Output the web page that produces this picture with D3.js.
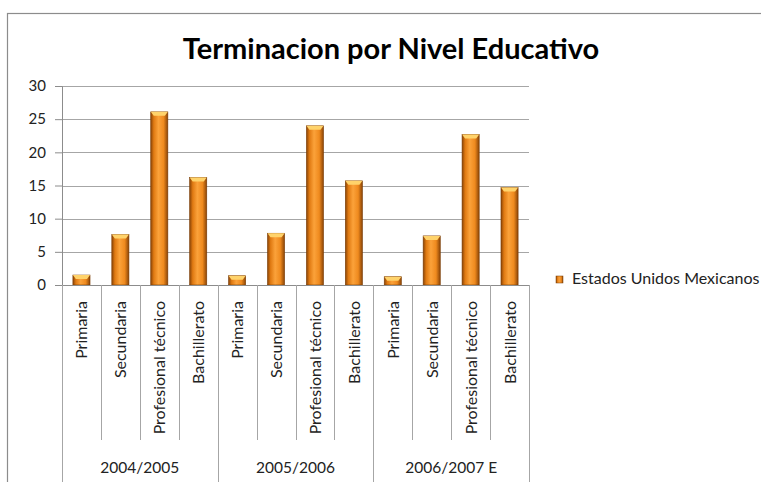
<!DOCTYPE html>
<html>
<head>
<meta charset="utf-8">
<script src="https://cdn.jsdelivr.net/npm/d3@7"></script>
<style>
  body { margin: 0; background: #fff; }
  text { font-family: Lato, "Open Sans", sans-serif; fill: #222; }
</style>
</head>
<body>
<div class="vis-barchart"></div>
<script>
// chart data
const periods = ["2004/2005", "2005/2006", "2006/2007 E"];
const levels = ["Primaria", "Secundaria", "Profesional técnico", "Bachillerato"];
const values_2004 = [1.5, 7.6, 26.1, 16.2];
const values_2005 = [1.4, 7.8, 24.0, 15.7];
const values_2006 = [1.25, 7.4, 22.7, 14.7];
const yTicks = [0, 5, 10, 15, 20, 25, 30];
const seriesName = "Estados Unidos Mexicanos";
const title = "Terminacion por Nivel Educativo";

const chartWidth = 761;
const chartHeight = 482;
const margin = { top: 86, left: 62, right: 232, bottom: 197 };
const plotW = chartWidth - margin.left - margin.right;
const plotH = chartHeight - margin.top - margin.bottom;

var allValues = [values_2004, values_2005, values_2006];
var chart_data = [];
periods.forEach(function(p, i) {
  levels.forEach(function(l, j) {
    chart_data.push({ period: p, level: l, key: p + "|" + l, value: allValues[i][j] });
  });
});

var svg = d3.select(".vis-barchart").append("svg")
  .attr("width", chartWidth)
  .attr("height", chartHeight);

var defs = svg.append("defs");
var grad = defs.append("linearGradient").attr("id", "barGrad")
  .attr("x1", "0%").attr("x2", "100%").attr("y1", "0%").attr("y2", "0%");
grad.append("stop").attr("offset", "0%").attr("stop-color", "#8a4406");
grad.append("stop").attr("offset", "18%").attr("stop-color", "#e07a12");
grad.append("stop").attr("offset", "45%").attr("stop-color", "#fba23a");
grad.append("stop").attr("offset", "75%").attr("stop-color", "#ef8a1e");
grad.append("stop").attr("offset", "100%").attr("stop-color", "#8a4406");

// outer frame
svg.append("rect")
  .attr("x", 7.5).attr("y", 13.5)
  .attr("width", 800).attr("height", 500)
  .attr("fill", "none").attr("stroke", "#8c8c8c").attr("stroke-width", 1.2);

svg.append("text")
  .attr("x", 391).attr("y", 59)
  .attr("text-anchor", "middle")
  .style("font-size", "29px").style("font-weight", "bold")
  .style("fill", "#000")
  .text(title);

var g = svg.append("g")
  .attr("transform", "translate(" + margin.left + "," + margin.top + ")");

var x = d3.scaleBand()
  .domain(chart_data.map(function(d) { return d.key; }))
  .range([0, plotW])
  .paddingInner(0.56)
  .paddingOuter(0.28);

var xp = d3.scaleBand().domain(periods).range([0, plotW]);

var y = d3.scaleLinear().domain([0, 30]).range([plotH, 0]);

// gridlines
g.selectAll(".grid").data(yTicks.slice(1)).enter().append("line")
  .attr("x1", 0).attr("x2", plotW)
  .attr("y1", function(d) { return Math.round(y(d)) + 0.5; })
  .attr("y2", function(d) { return Math.round(y(d)) + 0.5; })
  .attr("stroke", "#a6a6a6").attr("stroke-width", 1);

// y axis
var yAxis = g.append("g")
  .call(d3.axisLeft(y).tickValues(yTicks).tickSize(7).tickPadding(9));
yAxis.select(".domain").attr("stroke", "#8c8c8c");
yAxis.selectAll(".tick line").attr("stroke", "#8c8c8c");
yAxis.selectAll(".tick text")
  .style("font-size", "15px").style("fill", "#222")
  .style("font-family", "Lato, sans-serif");

// bars
var bw = x.bandwidth();
var bars = g.selectAll(".bar").data(chart_data).enter().append("g");
bars.append("rect")
  .attr("x", function(d) { return x(d.key); })
  .attr("width", bw)
  .attr("y", function(d) { return y(d.value); })
  .attr("height", function(d) { return plotH - y(d.value); })
  .attr("fill", "url(#barGrad)")
  .attr("stroke", "#7a3c05").attr("stroke-width", 0.6);
bars.append("path")
  .attr("d", function(d) {
    var x0 = x(d.key), y0 = y(d.value);
    return "M" + x0 + "," + y0 + "L" + (x0 + bw) + "," + y0 +
      "L" + (x0 + bw - 3) + "," + (y0 + 4) + "L" + (x0 + 3) + "," + (y0 + 4) + "Z";
  })
  .attr("fill", "#ffd36b");

// x axis baseline and separators
g.append("line")
  .attr("x1", 0).attr("x2", plotW)
  .attr("y1", plotH + 0.5).attr("y2", plotH + 0.5)
  .attr("stroke", "#8c8c8c");

var step = x.step();
var inner = chart_data.filter(function(d, i) { return i % levels.length !== 0; });
g.selectAll(".sep").data(inner).enter().append("line")
  .attr("x1", function(d) { return Math.round(x(d.key) - (step - bw) / 2) + 0.5; })
  .attr("x2", function(d) { return Math.round(x(d.key) - (step - bw) / 2) + 0.5; })
  .attr("y1", plotH).attr("y2", plotH + 155)
  .attr("stroke", "#a6a6a6");

var groupEdges = periods.map(function(p) { return xp(p); }).concat([plotW]);
g.selectAll(".gsep").data(groupEdges).enter().append("line")
  .attr("x1", function(d) { return Math.round(d) + 0.5; })
  .attr("x2", function(d) { return Math.round(d) + 0.5; })
  .attr("y1", plotH).attr("y2", chartHeight)
  .attr("stroke", "#a6a6a6");

// level labels (rotated)
g.selectAll(".lvl").data(chart_data).enter().append("text")
  .attr("transform", function(d) {
    return "translate(" + (x(d.key) + bw / 2 + 6) + "," + (plotH + 16) + ") rotate(-90)";
  })
  .attr("text-anchor", "end")
  .style("font-size", "16px")
  .text(function(d) { return d.level; });

// period labels
g.selectAll(".per").data(periods).enter().append("text")
  .attr("x", function(p) { return xp(p) + xp.bandwidth() / 2; })
  .attr("y", plotH + 188)
  .attr("text-anchor", "middle")
  .style("font-size", "15.5px")
  .text(function(p) { return p; });

// legend
var legend = svg.append("g").attr("transform", "translate(556,276)");
legend.append("rect")
  .attr("width", 7).attr("height", 7)
  .attr("fill", "url(#barGrad)").attr("stroke", "#7a3c05").attr("stroke-width", 0.5);
legend.append("text")
  .attr("x", 16).attr("y", 8)
  .style("font-size", "16px")
  .text(seriesName);
</script>
</body>
</html>
